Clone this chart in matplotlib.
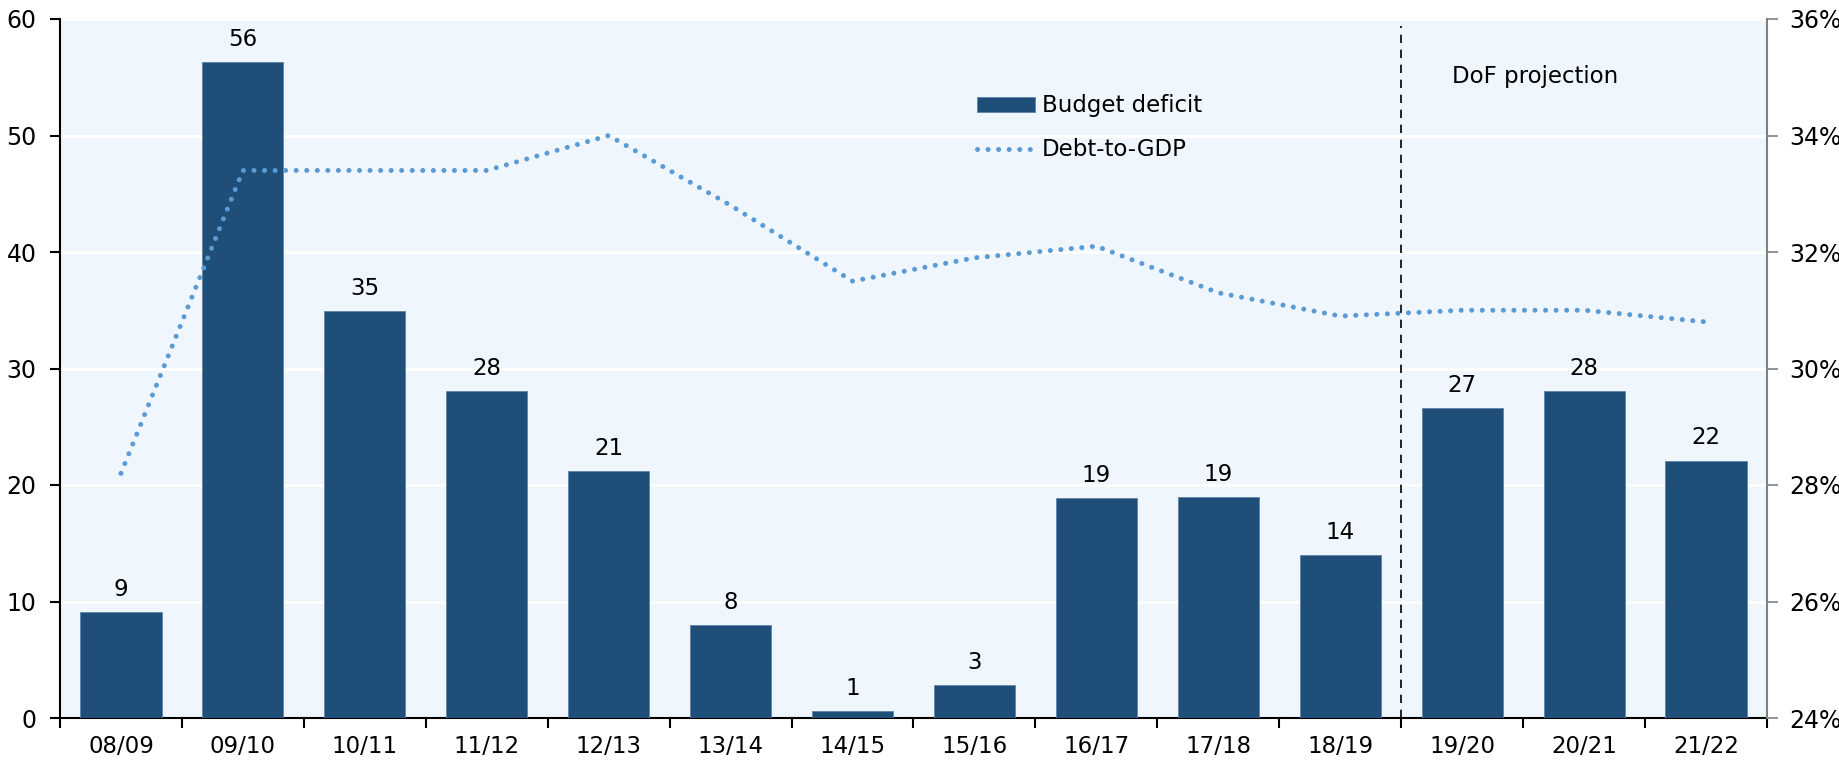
import matplotlib
matplotlib.use("Agg")
import matplotlib.pyplot as plt
import numpy as np
from matplotlib.ticker import FuncFormatter

# ---- data ----
categories = ["08/09", "09/10", "10/11", "11/12", "12/13", "13/14", "14/15",
              "15/16", "16/17", "17/18", "18/19", "19/20", "20/21", "21/22"]
budget_deficit = [9.1, 56.3, 34.9, 28.1, 21.2, 8.0, 0.6, 2.8, 18.9, 19.0, 14.0, 26.6, 28.1, 22.1]
bar_labels = ["9", "56", "35", "28", "21", "8", "1", "3", "19", "19", "14", "27", "28", "22"]
debt_to_gdp = [28.2, 33.4, 33.4, 33.4, 34.0, 32.8, 31.5, 31.9, 32.1, 31.3, 30.9, 31.0, 31.0, 30.8]
left_ticks = [0, 10, 20, 30, 40, 50, 60]
right_ticks = [24, 26, 28, 30, 32, 34, 36]
projection_label = "DoF projection"

plt.rcParams['font.family'] = ['DejaVu Sans']
FS = 16.5

BAR_C = "#1F4E79"
LINE_C = "#5B9BD5"
BG = "#EFF6FD"

fig = plt.figure(figsize=(18.4, 7.61), dpi=100)
ax = fig.add_axes([60/1840, 1-718/761, (1767-60)/1840, (718-19)/761])
ax.set_facecolor(BG)

x = np.arange(len(categories))
ax.bar(x, budget_deficit, width=0.665, color=BAR_C, edgecolor="#5f84a8",
       linewidth=0.6, zorder=3, label="Budget deficit")
for xi, v, lab in zip(x, budget_deficit, bar_labels):
    ax.annotate(lab, (xi, v), xytext=(0, 8), textcoords="offset points",
                ha="center", va="bottom", fontsize=FS, zorder=5)

ax.set_xlim(-0.5, len(categories) - 0.5)
ax.set_ylim(0, 60)
ax.set_yticks(left_ticks)
ax.set_yticklabels([str(t) for t in left_ticks], fontsize=FS + 0.5)
ax.yaxis.grid(True, color="white", linewidth=2, zorder=0)
ax.set_axisbelow(True)

ax.set_xticks(np.arange(-0.5, len(categories)), minor=False)
ax.set_xticklabels([])
ax.set_xticks(x, minor=True)
ax.set_xticklabels(categories, minor=True, fontsize=FS)
ax.tick_params(axis="x", which="major", length=7, width=1.5, direction="out", color="black")
ax.tick_params(axis="x", which="minor", length=0, pad=12)
ax.tick_params(axis="y", length=7, width=1.5, pad=10)

for s in ["top", "right"]:
    ax.spines[s].set_visible(False)
ax.spines["left"].set_linewidth(1.5)
ax.spines["bottom"].set_linewidth(1.5)

ax.axvline(10.5, ymin=0, ymax=0.99, color="black", linestyle=(0, (5, 4)),
           linewidth=1.2, zorder=4)
ax.text(11.6, 55.1, projection_label, fontsize=FS, ha="center", va="center", zorder=5)

ax2 = ax.twinx()
ax2.set_ylim(24, 36)
ax2.set_yticks(right_ticks)
ax2.yaxis.set_major_formatter(FuncFormatter(lambda v, p: f"{v:.0f}%"))
ax2.tick_params(axis="y", labelsize=FS + 0.5, length=8, width=1.2, color="#808080", pad=8)
for s in ["top", "left", "bottom"]:
    ax2.spines[s].set_visible(False)
ax2.spines["right"].set_color("#808080")
ax2.spines["right"].set_linewidth(1.5)
ax2.plot(x, debt_to_gdp, color=LINE_C, linewidth=3.6, linestyle=(0, (0.01, 2.1)),
         dash_capstyle="round", zorder=4, label="Debt-to-GDP")

h1, l1 = ax.get_legend_handles_labels()
h2, l2 = ax2.get_legend_handles_labels()
leg = ax2.legend(h1 + h2, l1 + l2, loc="upper left", bbox_to_anchor=(0.537, 0.892),
                 frameon=False, fontsize=FS, handlelength=2.55, handleheight=0.6,
                 handletextpad=0.3, labelspacing=0.91, borderpad=0, borderaxespad=0)

fig.savefig("out.png", dpi=100, facecolor="white")
